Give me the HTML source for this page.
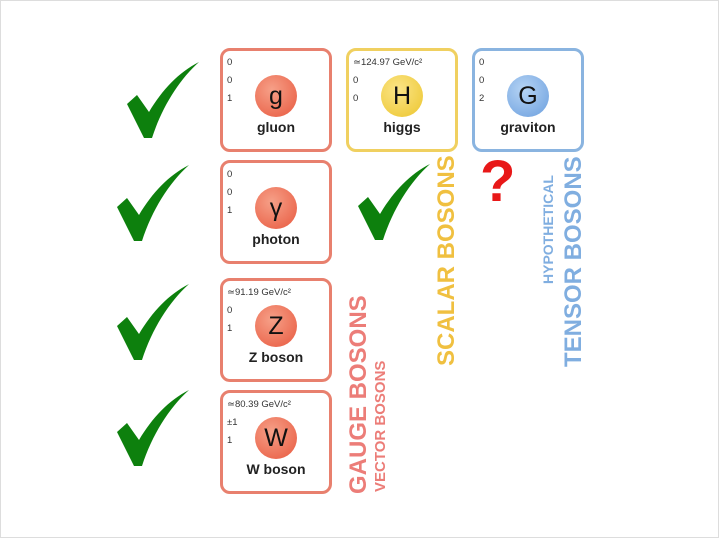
<!DOCTYPE html>
<html><head><style>
body{margin:0;width:719px;height:538px;background:#fff;position:relative;overflow:hidden;font-family:"Liberation Sans",sans-serif;}
.box{position:absolute;width:106px;height:98px;border:3px solid #e8806e;border-radius:10px;background:#fff;}
.y{border-color:#f0d060}.b{border-color:#8ab4e0}
.n{position:absolute;left:4px;font-size:9.5px;color:#333}
.c{position:absolute;left:32px;top:24px;width:42px;height:42px;border-radius:50%;background:radial-gradient(circle at 40% 35%,#f6a088,#e8583e);font-size:25px;text-align:center;line-height:42px;color:#111}
.cy{background:radial-gradient(circle at 40% 35%,#fbe588,#ecc52c)}
.cb{background:radial-gradient(circle at 40% 35%,#b6d4f4,#6a9ede)}
.l{position:absolute;left:0;width:106px;top:68px;text-align:center;font-weight:bold;font-size:14px;color:#222}
.v{position:absolute;transform:rotate(-90deg);transform-origin:left top;white-space:nowrap;font-weight:bold}
svg.ck{position:absolute}
</style></head><body>
<div style="position:absolute;left:0;top:0;right:0;bottom:0;border:1px solid #ddd"></div>

<div class="box" style="left:220px;top:48px"><div class="n" style="top:6px">0</div><div class="n" style="top:24px">0</div><div class="n" style="top:42px">1</div><div class="c">g</div><div class="l">gluon</div></div>
<div class="box" style="left:220px;top:160px"><div class="n" style="top:6px">0</div><div class="n" style="top:24px">0</div><div class="n" style="top:42px">1</div><div class="c">γ</div><div class="l">photon</div></div>
<div class="box" style="left:220px;top:278px"><div class="n" style="top:6px">≃91.19 GeV/c²</div><div class="n" style="top:24px">0</div><div class="n" style="top:42px">1</div><div class="c">Z</div><div class="l">Z boson</div></div>
<div class="box" style="left:220px;top:390px"><div class="n" style="top:6px">≃80.39 GeV/c²</div><div class="n" style="top:24px">±1</div><div class="n" style="top:42px">1</div><div class="c">W</div><div class="l">W boson</div></div>
<div class="box y" style="left:346px;top:48px"><div class="n" style="top:6px">≃124.97 GeV/c²</div><div class="n" style="top:24px">0</div><div class="n" style="top:42px">0</div><div class="c cy">H</div><div class="l">higgs</div></div>
<div class="box b" style="left:472px;top:48px"><div class="n" style="top:6px">0</div><div class="n" style="top:24px">0</div><div class="n" style="top:42px">2</div><div class="c cb">G</div><div class="l">graviton</div></div>

<div class="v" style="left:345px;top:494px;font-size:24px;color:#ec7d78">GAUGE BOSONS</div>
<div class="v" style="left:372px;top:492px;font-size:15px;color:#ec7d78">VECTOR BOSONS</div>
<div class="v" style="left:433px;top:366px;font-size:24px;color:#f0c040">SCALAR BOSONS</div>
<div class="v" style="left:540px;top:284px;font-size:14px;color:#80aee0">HYPOTHETICAL</div>
<div class="v" style="left:560px;top:367px;font-size:24px;color:#80aee0">TENSOR BOSONS</div>

<div style="position:absolute;left:480px;top:152px;font-size:58px;font-weight:bold;color:#e81818;line-height:60px">?</div>

<svg class="ck" style="left:127px;top:62px" width="74" height="78" viewBox="0 0 74 78"><path d="M0,42 L10,33 L22,50 C35,28 52,10 72,0 C52,18 35,45 25,76 L17,76 Z" fill="#0d800d"/></svg>
<svg class="ck" style="left:117px;top:165px" width="74" height="78" viewBox="0 0 74 78"><path d="M0,42 L10,33 L22,50 C35,28 52,10 72,0 C52,18 35,45 25,76 L17,76 Z" fill="#0d800d"/></svg>
<svg class="ck" style="left:117px;top:284px" width="74" height="78" viewBox="0 0 74 78"><path d="M0,42 L10,33 L22,50 C35,28 52,10 72,0 C52,18 35,45 25,76 L17,76 Z" fill="#0d800d"/></svg>
<svg class="ck" style="left:117px;top:390px" width="74" height="78" viewBox="0 0 74 78"><path d="M0,42 L10,33 L22,50 C35,28 52,10 72,0 C52,18 35,45 25,76 L17,76 Z" fill="#0d800d"/></svg>
<svg class="ck" style="left:358px;top:164px" width="74" height="78" viewBox="0 0 74 78"><path d="M0,42 L10,33 L22,50 C35,28 52,10 72,0 C52,18 35,45 25,76 L17,76 Z" fill="#0d800d"/></svg>
</body></html>
